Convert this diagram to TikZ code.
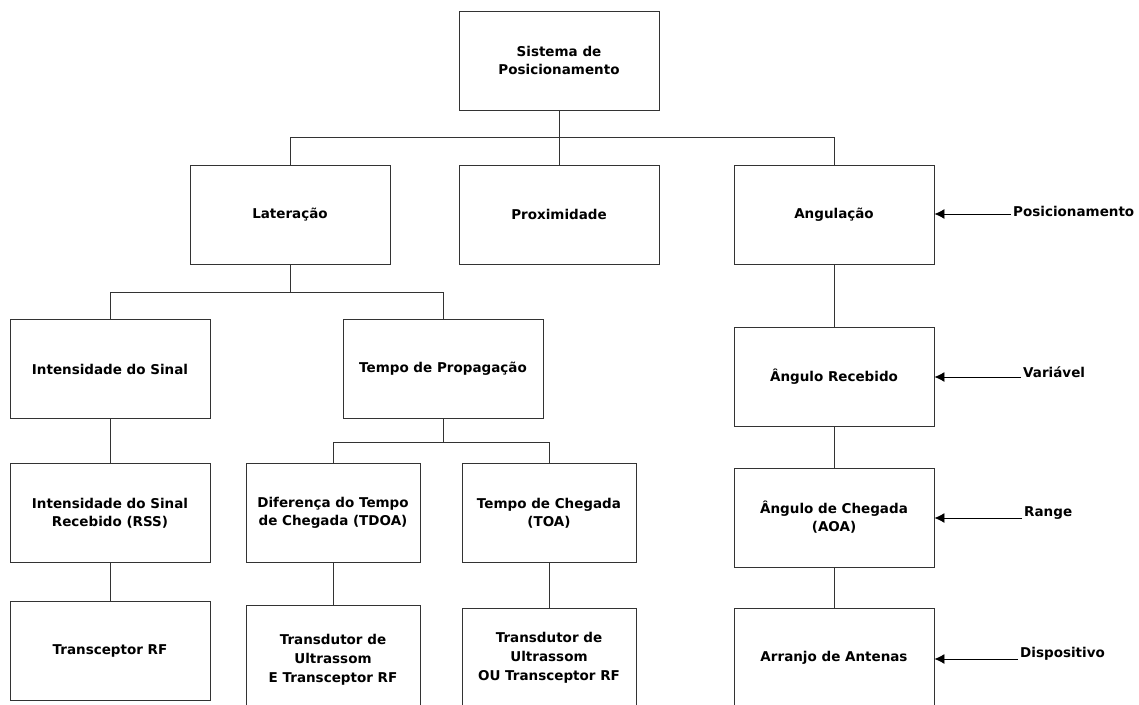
\documentclass[tikz,border=0pt]{standalone}
\usepackage{fontspec}
\setmainfont{DejaVu Sans}
\usetikzlibrary{positioning}
\usetikzlibrary{arrows.meta}

\begin{document}
\begin{tikzpicture}[x=1pt, y=-1pt,
    box/.style={draw=black!80, line width=0.9pt, minimum width=200, minimum height=99,
      align=center, font=\fontsize{13.5}{18}\selectfont\bfseries, inner sep=0pt},
    narrow/.style={box, minimum width=174},
    lbl/.style={font=\fontsize{13.5}{18}\selectfont\bfseries, inner sep=2pt},
    link/.style={draw=black!80, line width=0.9pt},
    pointer/.style={draw=black, line width=0.9pt, -{Latex[length=10pt,width=10pt]}}]
    \clip (0,0) rectangle (1139,704);

    % main levels
    \node[box] (sis) at (559,60.5) {Sistema de\\Posicionamento};
    \node[box] (lat) at (290,214.5) {Lateração};
    \node[box] (prox) at (559,214.5) {Proximidade};
    \node[box] (ang) at (834,214.5) {Angulação};

    % lateracao
    \node[box] (sinal) at (110,369) {Intensidade do Sinal};
    \node[box] (prop) at (443,369) {Tempo de Propagação};
    \node[box] (rss) at (110,513) {Intensidade do Sinal\\Recebido (RSS)};
    \node[narrow] (tdoa) at (333,513) {Diferença do Tempo\\de Chegada (TDOA)};
    \node[narrow] (toa) at (549,513) {Tempo de Chegada\\(TOA)};
    \node[box] (rf) at (110,651) {Transceptor RF};
    \node[narrow, minimum height=110, font=\fontsize{13.5}{19}\selectfont\bfseries] (usE) at (333,660) {Transdutor de\\Ultrassom\\E Transceptor RF};
    \node[narrow, font=\fontsize{13.5}{19}\selectfont\bfseries] (usOU) at (549,657.5) {Transdutor de\\Ultrassom\\OU Transceptor RF};

    % angulacao
    \node[box] (rec) at (834,376.5) {Ângulo Recebido};
    \node[box] (aoa) at (834,517.5) {Ângulo de Chegada\\(AOA)};
    \node[box] (arr) at (834,658) {Arranjo de Antenas};

    % labels on the right
    \node[lbl, anchor=west] (lpos) at (1011,211) {Posicionamento};
    \node[lbl, anchor=west] (lvar) at (1021,372) {Variável};
    \node[lbl, anchor=west] (lran) at (1022,513) {Range};
    \node[lbl, anchor=west] (ldis) at (1018,654) {Dispositivo};

    % tree
    \draw[link] (sis.south) -- ++(0,27) -| (lat.north);
    \draw[link] (sis.south) -- ++(0,27) -| (ang.north);
    \draw[link] (sis) -- (prox);
    \draw[link] (lat.south) -- ++(0,28) -| (sinal.north);
    \draw[link] (lat.south) -- ++(0,28) -| (prop.north);
    \draw[link] (prop.south) -- ++(0,23) -| (tdoa.north);
    \draw[link] (prop.south) -- ++(0,23) -| (toa.north);
    \draw[link] (sinal) -- (rss);
    \draw[link] (rss) -- (rf);
    \draw[link] (tdoa) -- (usE);
    \draw[link] (toa) -- (usOU);
    \draw[link] (ang) -- (rec);
    \draw[link] (rec) -- (aoa);
    \draw[link] (aoa) -- (arr);

    % arrows
    \draw[pointer] ([yshift=-3]lpos.west) -- ([yshift=-3]lpos.west -| ang.east);
    \draw[pointer] ([yshift=-5]lvar.west) -- ([yshift=-5]lvar.west -| rec.east);
    \draw[pointer] ([yshift=-5]lran.west) -- ([yshift=-5]lran.west -| aoa.east);
    \draw[pointer] ([yshift=-5]ldis.west) -- ([yshift=-5]ldis.west -| arr.east);
\end{tikzpicture}
\end{document}
